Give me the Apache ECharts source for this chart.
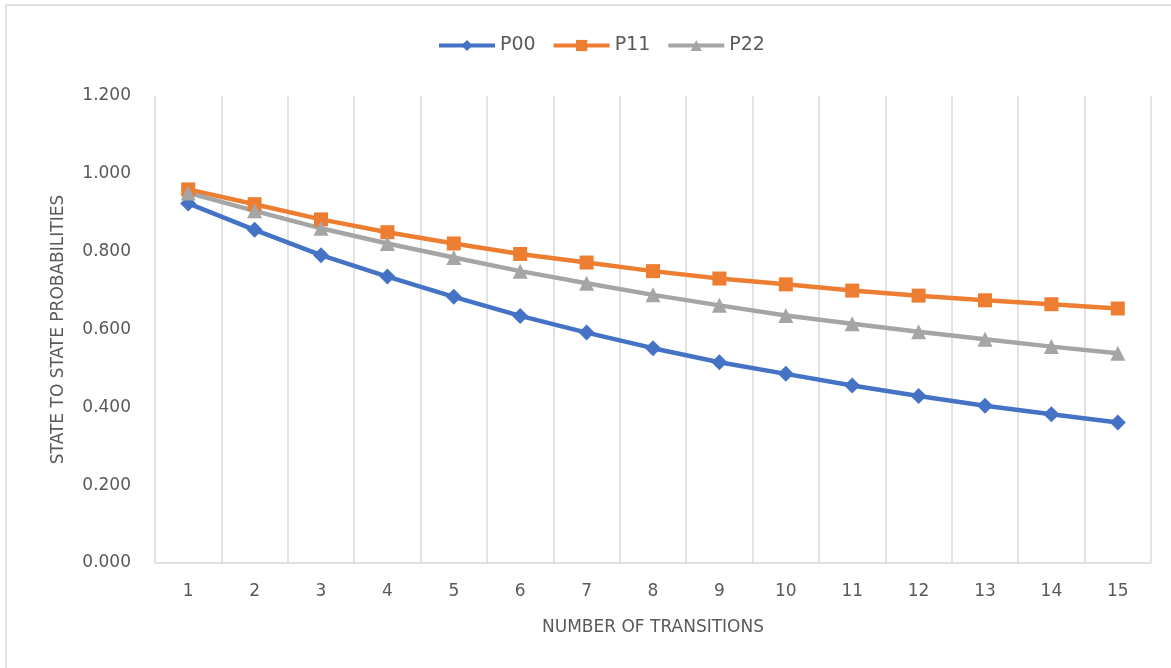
<!DOCTYPE html>
<html>
<head>
<meta charset="utf-8">
<script src="https://cdn.jsdelivr.net/npm/echarts@6/dist/echarts.min.js"></script>
<style>html,body{margin:0;padding:0;background:#fff}#c{width:1171px;height:668px}</style>
</head>
<body>
<div id="c"></div>
<script>
const categories = ['1','2','3','4','5','6','7','8','9','10','11','12','13','14','15'];
const p00 = [0.924,0.856,0.791,0.736,0.684,0.635,0.592,0.552,0.516,0.486,0.456,0.429,0.404,0.382,0.361];
const p11 = [0.960,0.922,0.883,0.850,0.821,0.794,0.772,0.750,0.731,0.716,0.700,0.687,0.675,0.665,0.654];
const p22 = [0.951,0.905,0.860,0.821,0.785,0.750,0.719,0.689,0.662,0.636,0.615,0.594,0.575,0.556,0.539];
const yTicks = [0, 0.2, 0.4, 0.6, 0.8, 1.0, 1.2];

const font = '"DejaVu Sans", "Open Sans", sans-serif';
const txt = '#595959';
const chart = echarts.init(document.getElementById('c'));
function s(name, data, color, symbol, size) {
  return {
    name, type: 'line', data, symbol, symbolSize: size,
    lineStyle: { color, width: 4.5 },
    itemStyle: { color },
    emphasis: { disabled: true },
    animation: false
  };
}
chart.setOption({
  animation: false,
  graphic: [{
    type: 'rect', shape: { x: 6, y: 5, width: 1200, height: 700 },
    style: { fill: 'none', stroke: '#d9d9d9', lineWidth: 1.5 }, z: -1
  }],
  legend: {
    top: 31, left: 432, itemGap: 16, itemWidth: 56, itemHeight: 14,
    lineStyle: { width: 4 },
    textStyle: { fontFamily: font, fontSize: 19, color: txt },
    data: ['P00', 'P11', 'P22']
  },
  grid: { left: 155, right: 20, top: 96, bottom: 105 },
  xAxis: {
    type: 'category', data: categories, boundaryGap: true,
    name: 'NUMBER OF TRANSITIONS', nameLocation: 'middle', nameGap: 56,
    nameTextStyle: { fontFamily: font, fontSize: 17, color: txt },
    axisLine: { show: true, lineStyle: { color: '#d9d9d9', width: 1.5 } },
    axisTick: { show: false },
    axisLabel: { fontFamily: font, fontSize: 17, color: txt, margin: 20 },
    splitLine: { show: true, lineStyle: { color: '#d9d9d9', width: 1.5 } }
  },
  yAxis: {
    type: 'value', min: yTicks[0], max: yTicks[yTicks.length - 1], interval: 0.2,
    name: 'STATE TO STATE PROBABILITIES', nameLocation: 'middle', nameGap: 88,
    nameTextStyle: { fontFamily: font, fontSize: 17, color: txt },
    axisLine: { show: false }, axisTick: { show: false },
    axisLabel: { fontFamily: font, fontSize: 17, color: txt, margin: 24,
      formatter: v => v.toFixed(3) },
    splitLine: { show: false }
  },
  series: [
    s('P00', p00, '#4472c4', 'diamond', 16),
    s('P11', p11, '#ed7d31', 'rect', 14),
    s('P22', p22, '#a5a5a5', 'triangle', 15)
  ]
});
</script>
</body>
</html>
